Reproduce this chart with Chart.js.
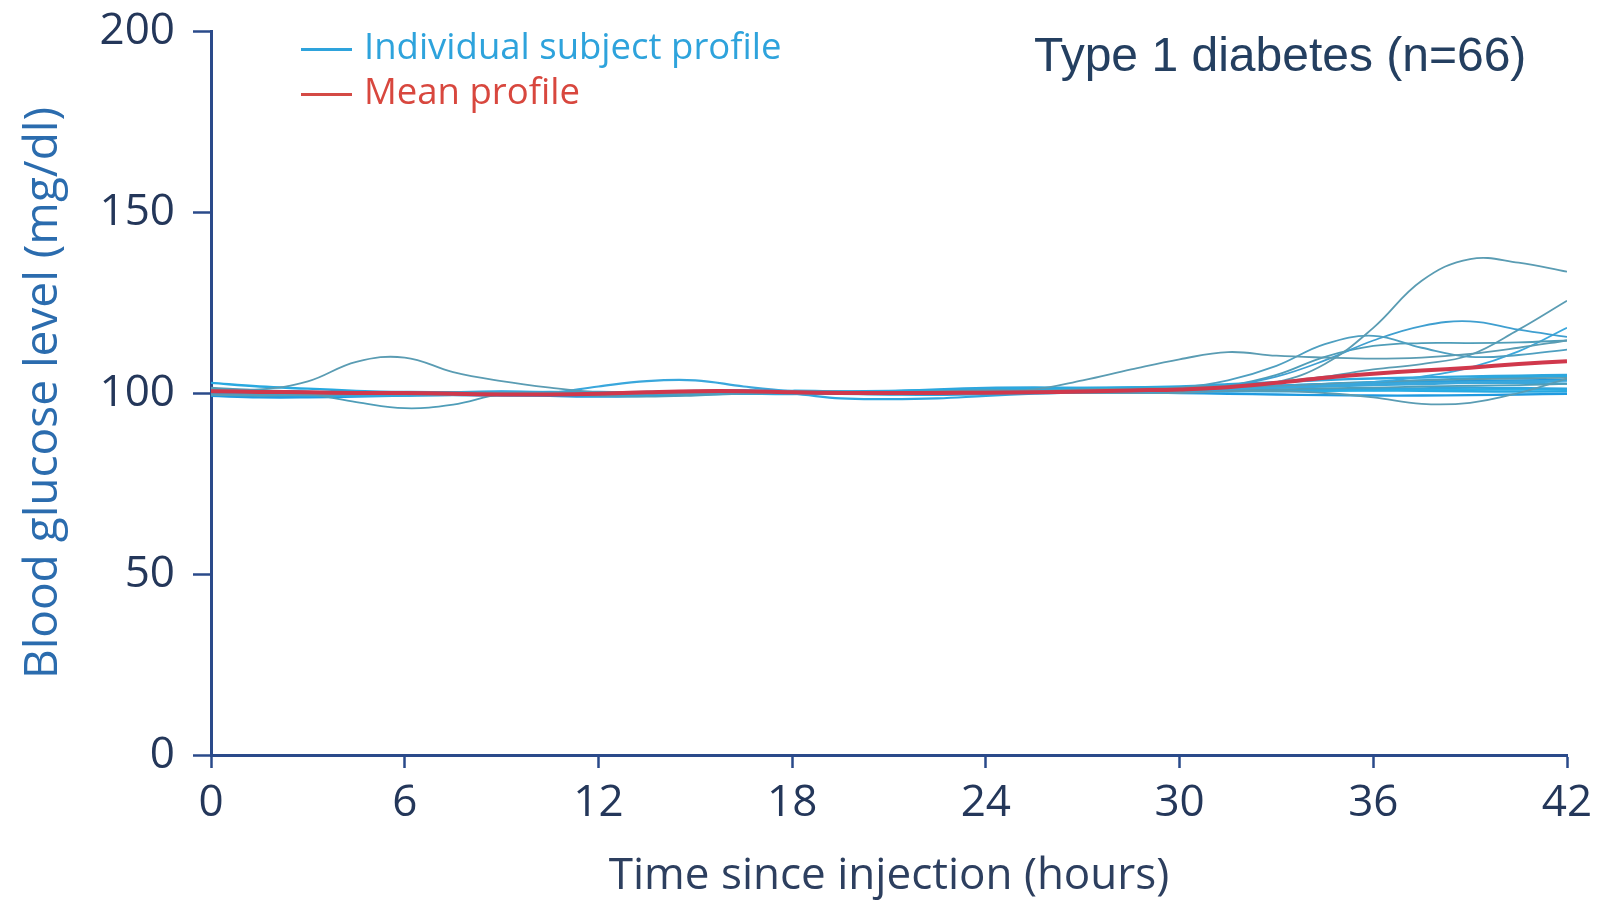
<!DOCTYPE html>
<html>
<head>
  <title>Blood glucose profiles</title>
  <script src="https://cdn.jsdelivr.net/npm/chart.js"></script>
  <style>
    body { margin: 0; background: #fff; }
    #wrap { position: relative; width: 1599px; height: 901px; }
    .legend { position: absolute; left: 301px; font-family: "Open Sans", sans-serif; font-size: 36.5px; line-height: 40px; }
    .legend span.swatch { display: inline-block; width: 51px; height: 3px; vertical-align: middle; margin-right: 12px; }
    #note { position: absolute; left: 1034px; top: 27px; font-family: "Liberation Sans", Arial, sans-serif; font-size: 48px; color: #243f60; }
  </style>
</head>
<body>
<div id="wrap">
  <canvas id="chart" width="1599" height="901"></canvas>
  <div class="legend" style="top:25px;color:#2ea3dc"><span class="swatch" style="background:#2ea3dc"></span>Individual subject profile</div>
  <div class="legend" style="top:70px;color:#d8473e"><span class="swatch" style="background:#d44a45"></span>Mean profile</div>
  <div id="note">Type 1 diabetes (n=66)</div>
</div>

<script>
  // time points (hours since injection)
  const hours = [0,1.5,3,4.5,6,7.5,9,10.5,12,13.5,15,16.5,18,19.5,21,22.5,24,25.5,27,28.5,30,31.5,33,34.5,36,37.5,39,40.5,42];

  const meanProfile = [100.5,100.3,100.2,100,100,99.8,99.6,99.6,99.8,100.2,100.5,100.5,100.2,100,100,100,100.1,100.2,100.4,100.7,101,101.6,102.8,104.2,105.3,106.2,107,108,108.8];

  // individual subject profiles (mg/dl)
  const subject01 = [101,100.5,100.2,100,99.8,99.5,99.5,99.6,100,100.2,100.4,100.2,100,99.8,100,100.2,100.4,100.6,101,101.2,101.5,102,103,108,118,131,137,136,133.5];
  const subject02 = [99.5,99.3,99.5,99.8,100,100.2,100,99.8,99.6,99.8,100,100.3,100.5,100.4,100.2,100.5,100.8,101,103.5,106.5,109.3,111.3,110.3,109.8,109.5,109.8,110.8,112.5,114.5];
  const subject03 = [100.5,100.2,100,99.8,99.7,99.8,100,100.2,100.1,99.9,99.8,100,100.2,100.3,100.1,100,100.2,100.5,100.8,101,101.5,103.5,107.5,113.5,115.8,112.5,110,110.5,112];
  const subject04 = [100,99.8,99.7,99.9,100.1,100.2,100,99.8,99.7,99.9,100.2,100.4,100.3,100.1,100,100.1,100.3,100.4,100.4,100.5,101,102,104.5,109,114.5,118.5,119.8,117.5,115.5];
  const subject05 = [101.2,100.8,100.4,100.1,99.9,99.8,99.9,100,100.2,100.4,100.5,100.3,100.1,99.9,99.8,100,100.2,100.4,100.5,100.6,100.8,102,105,110,113,113.8,113.8,114,114.5];
  const subject06 = [99.8,99.6,99.5,99.6,99.8,100,100.1,100,99.9,100,100.2,100.3,100.2,100,100,100.2,100.3,100.4,100.4,100.5,100.5,101.5,103,104.5,106.5,108,110.5,117.5,125.5];
  const subject07 = [100.3,100.1,99.9,99.8,99.9,100.1,100.3,100.2,100,99.9,100,100.1,100.2,100.1,100,100,100.1,100.2,100.3,100.4,100.5,101,101.5,102,103,104.5,107,111.5,118];
  const subject08 = [100.8,100.5,100.1,99.8,99.6,99.7,99.9,100,99.9,99.8,99.9,100.1,100.2,100,99.8,99.7,99.8,100,100,100,100,100.5,100.5,100,98.8,97,97.3,100,104];
  const subject09 = [101.5,101,103.2,108.6,109.8,105.8,103.3,101.5,100.2,100,100.2,100.4,100.3,100,99.8,100,100.3,100.5,100.6,100.8,101,101.2,101.8,102.5,103,103.5,103.8,104,104.2];
  const subject10 = [100,99.5,99.6,97.5,95.8,96.8,99.6,99.6,99.2,99,99.3,99.8,100,99.8,99.6,99.8,100,100.2,100.3,100.5,100.6,100.8,101,101.3,101.5,101.8,102,102.2,102.5];
  const subject11 = [100.2,100,99.8,99.6,99.5,99.4,99.5,100,101.8,103.3,103.5,101.8,100.5,100,99.8,100,100.2,100.4,100.5,100.6,100.8,101,101.5,102,102.5,102.8,103,103.2,103.4];
  const subject12 = [99.8,99.5,99.3,99.2,99.3,99.5,99.6,99.5,99.4,99.6,100,100.2,99.8,98.5,98.3,98.5,99.2,99.8,100.2,100.3,100.4,100.5,100.8,101,101.2,101.3,101.5,101.4,101.2];
  const subject13 = [102.8,101.8,101.2,100.6,100.2,100,99.8,99.6,99.5,99.6,99.8,100,100.2,100.4,100.6,100.8,101,101.2,101.4,101.5,101.6,101.8,102,102.5,103,103.5,104,104.4,104.6];
  const subject14 = [99.2,98.8,98.8,99,99.3,99.5,99.4,99.2,99,99.2,99.6,100,100.1,100,100,100.2,100.4,100.5,100.3,100.2,100,99.8,99.6,99.4,99.3,99.3,99.4,99.6,99.8];
  const subject15 = [100,99.8,99.9,100.1,100.3,100.2,100,99.8,99.6,99.5,99.8,100.3,100.6,100.4,100.2,100.3,100.6,100.9,101,101,100.8,100.6,100.5,100.6,100.8,101,101,101,101];
  const subject16 = [101,100.6,100.3,100,99.7,99.5,99.3,99.5,99.8,100.2,100.6,100.8,100.5,100.2,100.4,100.7,101,101.2,101.1,101,101,101.2,101.5,101.8,102.2,102.5,102.8,102.8,102.6];
  const subject17 = [99.6,99.3,99.2,99.4,99.8,100.2,100.4,100.2,99.8,99.6,99.8,100.1,100.2,100.1,99.9,100,100.3,100.6,100.8,101,101.2,101.6,102,102.4,102.8,103.1,103.3,103.5,103.6];
  const subject18 = [100.6,100.4,100.2,100,99.8,99.9,100.1,100.3,100.1,99.8,99.7,99.9,100,99.8,99.6,99.5,99.7,100,100.2,100.3,100.4,100.5,100.6,100.7,100.7,100.6,100.5,100.4,100.5];
  const subject19 = [99.9,99.7,99.6,99.6,99.7,99.8,100,100.2,100.3,100.1,99.9,99.8,99.7,99.9,100.4,101,101.4,101.5,101.4,101.5,101.8,102.4,103,103.6,104,104.3,104.6,104.8,105];

  const subjects = [subject01, subject02, subject03, subject04, subject05, subject06, subject07, subject08, subject09, subject10,
                    subject11, subject12, subject13, subject14, subject15, subject16, subject17, subject18, subject19];
  const subjectColors = ['#5a9cb3','#5a9cb3','#4e9fc0','#3f9fd0','#4f9db8','#5a9cb3','#3aa7dc','#5a9cb3','#5a9cb3','#4f9db8',
                         '#3aa7dc','#2fa6de','#29a9e0','#1f9ae0','#29b0e6','#3aa7dc','#1f9ae0','#29a9e0','#2fa6de'];
  const subjectWidths = [1.8,1.8,1.8,1.8,1.8,1.8,1.8,1.8,1.8,1.8,2.2,2.2,2.4,2.4,2.4,2.4,2.4,2.4,2.4];

  const yTicks = [0, 50, 100, 150, 200];
  const xTicks = [0, 6, 12, 18, 24, 30, 36, 42];

  const axisColor = '#2a4a8a';
  const tickFont = { family: "'Open Sans', sans-serif", size: 44 };

  const datasets = [{
    label: 'Mean profile',
    data: hours.map((h, i) => ({ x: h, y: meanProfile[i] })),
    borderColor: '#d0384c',
    borderWidth: 4,
    pointRadius: 0,
    tension: 0.4
  }];
  subjects.forEach((s, k) => {
    datasets.push({
      label: 'Individual subject profile',
      data: hours.map((h, i) => ({ x: h, y: s[i] })),
      borderColor: subjectColors[k],
      borderWidth: subjectWidths[k],
      pointRadius: 0,
      tension: 0.4
    });
  });

  new Chart(document.getElementById('chart'), {
    type: 'line',
    data: { datasets },
    options: {
      responsive: false,
      animation: false,
      layout: { padding: { left: 0, right: 32, top: 31, bottom: 0 } },
      plugins: { legend: { display: false }, tooltip: { enabled: false } },
      scales: {
        x: {
          type: 'linear',
          min: 0, max: 42,
          afterFit: s => { s.height = 146; s.paddingLeft = 0; s.paddingRight = 0; },
          afterBuildTicks: s => { s.ticks = xTicks.map(v => ({ value: v })); },
          border: { color: axisColor, width: 3 },
          grid: { drawOnChartArea: false, tickLength: 13, tickColor: axisColor, tickWidth: 2.5 },
          ticks: { color: '#24375a', font: tickFont, padding: 9, maxRotation: 0 },
          title: {
            display: true, text: 'Time since injection (hours)', color: '#2d3f5f',
            font: { family: "'Open Sans', sans-serif", size: 44, lineHeight: 1 },
            padding: { top: 0, bottom: 3 }
          }
        },
        y: {
          min: 0, max: 200,
          afterFit: s => { s.width = 211; s.paddingTop = 0; s.paddingBottom = 0; },
          afterBuildTicks: s => { s.ticks = yTicks.map(v => ({ value: v })); },
          border: { color: axisColor, width: 3 },
          grid: { drawOnChartArea: false, tickLength: 18, tickColor: axisColor, tickWidth: 2.5 },
          ticks: { color: '#24375a', font: tickFont, padding: 18 },
          title: {
            display: true, text: 'Blood glucose level (mg/dl)', color: '#2b6cae',
            font: { family: "'Open Sans', sans-serif", size: 46, lineHeight: 1 },
            padding: { top: 21, bottom: 0 }
          }
        }
      }
    }
  });
</script>
</body>
</html>
